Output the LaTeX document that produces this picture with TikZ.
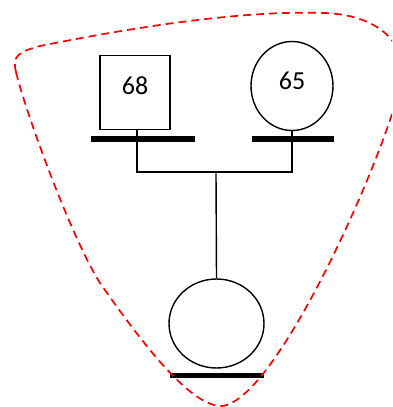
\documentclass[tikz,border=0pt]{standalone}
\usepackage{fontspec}
\setmainfont{Carlito}
\usetikzlibrary{shapes.geometric}

\begin{document}
\begin{tikzpicture}[x=1pt,y=-1pt,
   every node/.style={draw,line width=1.4pt,font=\fontsize{26}{30}\selectfont},
   male/.style={rectangle,minimum width=70pt,minimum height=74pt,text depth=14pt},
   female/.style={ellipse,inner sep=0pt},
   bar/.style={rectangle,draw=none,fill=black,minimum height=5.5pt,inner sep=0pt},
   link/.style={line width=1.4pt},
   group/.style={red,line width=1.7pt,dash pattern=on 8pt off 5pt}]

\useasboundingbox (0,0) rectangle (392,407);
\clip (0,0) rectangle (392,407);

\node[male] (father) at (135,92.5) {68};
\node[female,minimum width=82pt,minimum height=89pt,text depth=10pt] (mother) at (292,86) {65};
\node[female,minimum width=95pt,minimum height=89pt] (child) at (216.5,323.5) {};

\node[bar,minimum width=104pt] (fbar) at (143,139) {};
\node[bar,minimum width=82pt] (mbar) at (293,139) {};
\node[bar,minimum width=94pt] (cbar) at (217,375.5) {};

\coordinate (couple) at (216,172);
\draw[link] ([xshift=2pt]father.south) |- (couple) -| (mother.south);
\draw[link] (couple) -- (child.north);

\draw[group] (16,72) .. controls (12,56) and (18,52) .. (40,46)
   .. controls (130,28) and (240,10) .. (325,13)
   .. controls (375,15) and (405,40) .. (402,75)
   .. controls (396,130) and (280,400) .. (222,406)
   .. controls (190,407) and (140,340) .. (100,283)
   .. controls (70,235) and (25,110) .. cycle;

\end{tikzpicture}
\end{document}
